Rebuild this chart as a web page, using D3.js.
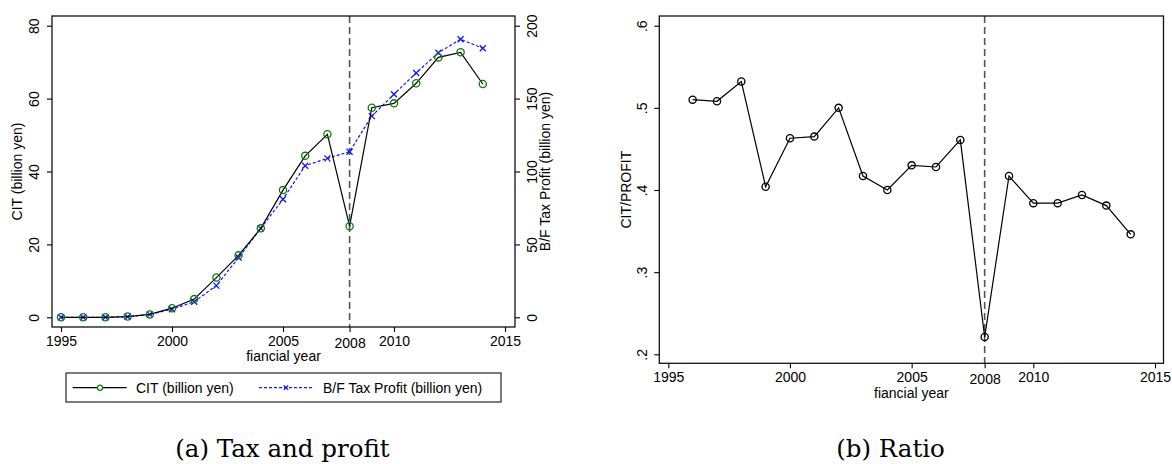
<!DOCTYPE html>
<html><head><meta charset="utf-8">
<script src="https://cdn.jsdelivr.net/npm/d3@7"></script>
<style>
html,body{margin:0;padding:0;background:#fff;}
svg{display:block;}
text{font-family:"Liberation Sans",Arial,sans-serif;fill:#000;}
.cap{font-family:"DejaVu Serif",serif;}
</style></head>
<body>
<svg id="c" width="1172" height="464"></svg>
<script>
// ---- data ----
const years = [1995,1996,1997,1998,1999,2000,2001,2002,2003,2004,2005,2006,2007,2008,2009,2010,2011,2012,2013,2014];
const cit = [0,0,0,0.2,0.8,2.5,5.0,10.9,17.0,24.4,34.9,44.3,50.2,25.0,57.5,58.7,64.2,71.3,72.7,64.0];
const profit = [0,0,0,0.4,2.0,5.5,10.7,21.7,41,61,81,104,109,113.6,138,153,167.6,181.5,190.7,184.5];
const ratioYears = [1996,1997,1998,1999,2000,2001,2002,2003,2004,2005,2006,2007,2008,2009,2010,2011,2012,2013,2014];
const ratio = [0.510,0.508,0.532,0.404,0.463,0.465,0.500,0.417,0.400,0.430,0.428,0.461,0.221,0.417,0.384,0.384,0.394,0.381,0.346];
const xTicks = [1995,2000,2005,2010,2015];
const markYear = 2008;
const citTicks = [0,20,40,60,80];
const profitTicks = [0,50,100,150,200];
const ratioTicks = [0.2,0.3,0.4,0.5,0.6];
const legendLabels = ["CIT (billion yen)","B/F Tax Profit (billion yen)"];

const svg = d3.select("#c");
const green = "#0c7d0c", blue = "#1414ff";

function styleAxis(g){
  g.select(".domain").remove();
  g.selectAll(".tick line").attr("stroke","#000").attr("stroke-width",1.1);
  g.selectAll(".tick text").attr("font-size",14);
}

// ================= Panel (a) =================
{
  const L=52,R=515,T=16,B=327;
  const x = d3.scaleLinear().domain([1995,2015]).range([61,505]);
  const yl = d3.scaleLinear().domain([0,80]).range([317.3,25.7]);
  const yr = d3.scaleLinear().domain([0,200]).range([317.3,25.7]);
  const g = svg.append("g");

  const gx = g.append("g").attr("transform",`translate(0,${B})`)
    .call(d3.axisBottom(x).tickValues(xTicks).tickSize(5).tickFormat(d3.format("d")));
  styleAxis(gx);
  gx.selectAll(".tick text").attr("y",19).attr("dy",0);
  const gx2 = g.append("g").attr("transform",`translate(0,${B})`)
    .call(d3.axisBottom(x).tickValues([markYear]).tickSize(5).tickFormat(d3.format("d")));
  styleAxis(gx2);
  gx2.selectAll(".tick text").attr("y",21).attr("dy",0);

  const gy = g.append("g").attr("transform",`translate(${L},0)`)
    .call(d3.axisLeft(yl).tickValues(citTicks).tickSize(5));
  styleAxis(gy);
  gy.selectAll(".tick text").attr("transform","rotate(-90)").attr("x",0).attr("y",-13).attr("dy",0).attr("text-anchor","middle");

  const gyr = g.append("g").attr("transform",`translate(${R},0)`)
    .call(d3.axisRight(yr).tickValues(profitTicks).tickSize(5));
  styleAxis(gyr);
  gyr.selectAll(".tick text").attr("transform","rotate(-90)").attr("x",0).attr("y",22).attr("dy",0).attr("text-anchor","middle");

  g.append("line").attr("x1",x(markYear)).attr("x2",x(markYear)).attr("y1",T).attr("y2",B)
    .attr("stroke","#555").attr("stroke-width",1.6).attr("stroke-dasharray","7,4");

  const lineP = d3.line().x((d,i)=>x(years[i])).y(d=>yr(d));
  g.append("path").datum(profit).attr("d",lineP).attr("fill","none")
    .attr("stroke",blue).attr("stroke-width",1.2).attr("stroke-dasharray","3,2");
  const cs=3;
  g.selectAll(".xm").data(profit).enter().append("path")
    .attr("d",(d,i)=>{const cx=x(years[i]),cy=yr(d);return `M${cx-cs},${cy-cs}L${cx+cs},${cy+cs}M${cx-cs},${cy+cs}L${cx+cs},${cy-cs}`;})
    .attr("stroke",blue).attr("stroke-width",1.3).attr("fill","none");

  const lineC = d3.line().x((d,i)=>x(years[i])).y(d=>yl(d));
  g.append("path").datum(cit).attr("d",lineC).attr("fill","none")
    .attr("stroke","#000").attr("stroke-width",1.2);
  g.selectAll(".cm").data(cit).enter().append("circle")
    .attr("cx",(d,i)=>x(years[i])).attr("cy",d=>yl(d)).attr("r",3.6)
    .attr("fill","none").attr("stroke",green).attr("stroke-width",1.3);

  g.append("rect").attr("x",L).attr("y",T).attr("width",R-L).attr("height",B-T)
    .attr("fill","none").attr("stroke","#111").attr("stroke-width",1.3);

  g.append("text").attr("transform",`translate(22,${(T+B)/2}) rotate(-90)`).attr("text-anchor","middle")
    .attr("font-size",14).text("CIT (billion yen)");
  g.append("text").attr("transform",`translate(549.5,${(T+B)/2}) rotate(-90)`).attr("text-anchor","middle")
    .attr("font-size",14).text("B/F Tax Profit (billion yen)");
  g.append("text").attr("x",(L+R)/2).attr("y",361).attr("text-anchor","middle")
    .attr("font-size",14).text("fiancial year");

  g.append("rect").attr("x",66).attr("y",373).attr("width",435).attr("height",29)
    .attr("fill","#fff").attr("stroke","#111").attr("stroke-width",1.1);
  const ly=387.7;
  g.append("line").attr("x1",72.7).attr("x2",126.7).attr("y1",ly).attr("y2",ly).attr("stroke","#000").attr("stroke-width",1.2);
  g.append("circle").attr("cx",100).attr("cy",ly).attr("r",2.6).attr("fill","#fff").attr("stroke",green).attr("stroke-width",1.2);
  g.append("text").attr("x",136).attr("y",ly+5).attr("font-size",14).text(legendLabels[0]);
  g.append("line").attr("x1",259).attr("x2",313).attr("y1",ly).attr("y2",ly).attr("stroke",blue).attr("stroke-width",1.2).attr("stroke-dasharray","3,2");
  const lc=2.2;
  g.append("path").attr("d",`M${286-lc},${ly-lc}L${286+lc},${ly+lc}M${286-lc},${ly+lc}L${286+lc},${ly-lc}`)
    .attr("stroke",blue).attr("stroke-width",1.3);
  g.append("text").attr("x",323).attr("y",ly+5).attr("font-size",14).text(legendLabels[1]);

  g.append("text").attr("class","cap").attr("x",282.5).attr("y",457).attr("text-anchor","middle")
    .attr("font-size",24.5).text("(a) Tax and profit");
}

// ================= Panel (b) =================
{
  const L=659.3,R=1163.5,T=16,B=363.3;
  const x = d3.scaleLinear().domain([1995,2015]).range([668.3,1155]);
  const y = d3.scaleLinear().domain([0.2,0.6]).range([354.3,25.7]);
  const g = svg.append("g");

  const gx = g.append("g").attr("transform",`translate(0,${B})`)
    .call(d3.axisBottom(x).tickValues(xTicks).tickSize(5).tickFormat(d3.format("d")));
  styleAxis(gx);
  gx.selectAll(".tick text").attr("y",19).attr("dy",0);
  const gx2 = g.append("g").attr("transform",`translate(0,${B})`)
    .call(d3.axisBottom(x).tickValues([markYear]).tickSize(5).tickFormat(d3.format("d")));
  styleAxis(gx2);
  gx2.selectAll(".tick text").attr("y",21).attr("dy",0);

  const gy = g.append("g").attr("transform",`translate(${L},0)`)
    .call(d3.axisLeft(y).tickValues(ratioTicks).tickSize(5).tickFormat(d=>d3.format(".1f")(d).replace(/^0/,"")));
  styleAxis(gy);
  gy.selectAll(".tick text").attr("transform","rotate(-90)").attr("x",0).attr("y",-12.3).attr("dy",0).attr("text-anchor","middle");

  g.append("line").attr("x1",x(markYear)).attr("x2",x(markYear)).attr("y1",T).attr("y2",B)
    .attr("stroke","#555").attr("stroke-width",1.6).attr("stroke-dasharray","7,4");

  const line = d3.line().x((d,i)=>x(ratioYears[i])).y(d=>y(d));
  g.append("path").datum(ratio).attr("d",line).attr("fill","none").attr("stroke","#000").attr("stroke-width",1.2);
  g.selectAll(".rm").data(ratio).enter().append("circle")
    .attr("cx",(d,i)=>x(ratioYears[i])).attr("cy",d=>y(d)).attr("r",3.6)
    .attr("fill","none").attr("stroke","#000").attr("stroke-width",1.3);

  g.append("rect").attr("x",L).attr("y",T).attr("width",R-L).attr("height",B-T)
    .attr("fill","none").attr("stroke","#111").attr("stroke-width",1.3);

  g.append("text").attr("transform",`translate(631,${(T+B)/2}) rotate(-90)`).attr("text-anchor","middle")
    .attr("font-size",14).text("CIT/PROFIT");
  g.append("text").attr("x",(L+R)/2).attr("y",397.7).attr("text-anchor","middle")
    .attr("font-size",14).text("fiancial year");

  g.append("text").attr("class","cap").attr("x",890.5).attr("y",457).attr("text-anchor","middle")
    .attr("font-size",24.5).text("(b) Ratio");
}
</script>
</body></html>
